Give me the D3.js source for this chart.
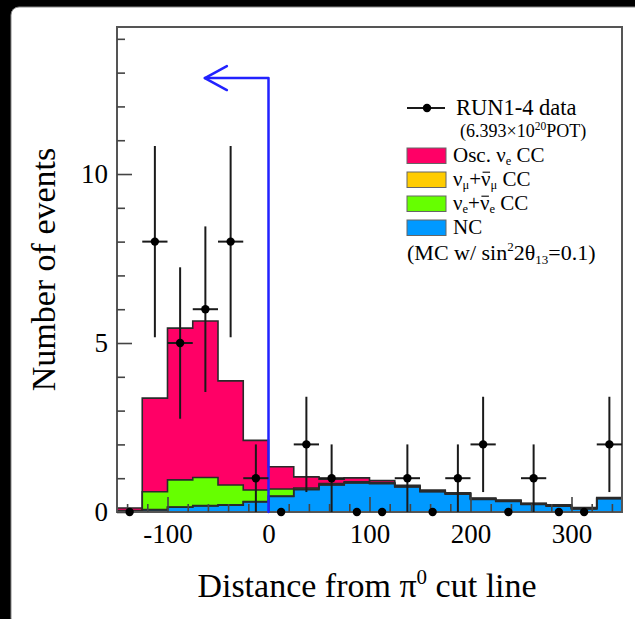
<!DOCTYPE html>
<html>
<head>
<meta charset="utf-8">
<script src="https://cdn.jsdelivr.net/npm/d3@7/dist/d3.min.js"></script>
<style>
  html, body { margin: 0; padding: 0; background: #000; }
  svg { display: block; }
  text { font-family: "Liberation Serif", "DejaVu Serif", serif; fill: #000; }
</style>
</head>
<body>
<svg id="chart" width="635" height="619"></svg>
<script>
// ---------------- data ----------------
const binEdges = [-150, -125, -100, -75, -50, -25, 0, 25, 50, 75, 100, 125, 150, 175, 200, 225, 250, 275, 300, 325, 350];
const binCenters = [-137.5, -112.5, -87.5, -62.5, -37.5, -12.5, 12.5, 37.5, 62.5, 87.5, 112.5, 137.5, 162.5, 187.5, 212.5, 237.5, 262.5, 287.5, 312.5, 337.5];
// MC components (stacked, bottom to top)
const ncValues      = [0.02, 0.06, 0.14, 0.18, 0.20, 0.30, 0.46, 0.66, 0.80, 0.86, 0.84, 0.74, 0.60, 0.53, 0.37, 0.31, 0.22, 0.17, 0.09, 0.39];
const numuCCValues  = [0.00, 0.01, 0.01, 0.01, 0.01, 0.01, 0.01, 0.02, 0.01, 0.01, 0.01, 0.01, 0.01, 0.01, 0.01, 0.01, 0.01, 0.01, 0.01, 0.01];
const nueBeamValues = [0.02, 0.53, 0.80, 0.83, 0.59, 0.34, 0.21, 0.03, 0.03, 0.02, 0.02, 0.02, 0.02, 0.02, 0.02, 0.02, 0.02, 0.02, 0.02, 0.02];
const oscNueValues  = [0.08, 2.77, 4.49, 4.63, 3.08, 1.47, 0.66, 0.33, 0.13, 0.12, 0.06, 0.02, 0.02, 0.01, 0.01, 0.01, 0.01, 0.01, 0.01, 0.01];
// data
const dataCounts = [0, 8, 5, 6, 8, 1, 0, 2, 1, 0, 0, 1, 0, 1, 2, 0, 1, 0, 0, 2];
const dataErrors = [0, 2.83, 2.24, 2.45, 2.83, 1, 0, 1.41, 1, 0, 0, 1, 0, 1, 1.41, 0, 1, 0, 0, 1.41];
const binHalfWidth = 12.5;
// axes
const xDomain = [-150, 350];
const yDomain = [0, 14.35];
const xTickLabels = [-100, 0, 100, 200, 300];
const xMinorTicks = [-140, -120, -80, -60, -40, -20, 20, 40, 60, 80, 120, 140, 160, 180, 220, 240, 260, 280, 320, 340];
const yTickLabels = [0, 5, 10];
const yMinorTicks = [1, 2, 3, 4, 6, 7, 8, 9, 11, 12, 13, 14];
// cut line
const cutX = 0, cutTop = 12.84, arrowTipX = -63;

const seriesKeys = ["nc", "numu", "nueBeam", "oscNue"];
const seriesColors = { nc: "#0099ff", numu: "#ffcc00", nueBeam: "#66ff00", oscNue: "#ff0066" };

// ---------------- layout ----------------
const svg = d3.select("#chart");
const W = 635, H = 619;
const plot = { left: 117, right: 622, top: 27, bottom: 512 };

svg.append("rect").attr("x", 0).attr("y", 0).attr("width", W).attr("height", H).attr("fill", "#000");
svg.append("rect").attr("x", 11).attr("y", 7).attr("width", W).attr("height", H)
  .attr("rx", 8).attr("fill", "#fff").attr("stroke", "#888").attr("stroke-width", 1);

const x = d3.scaleLinear().domain(xDomain).range([plot.left, plot.right]);
const y = d3.scaleLinear().domain(yDomain).range([plot.bottom, plot.top]);

svg.append("clipPath").attr("id", "clip").append("rect")
  .attr("x", plot.left).attr("y", plot.top).attr("width", plot.right - plot.left).attr("height", plot.bottom - plot.top);

// ---------------- stacked histogram ----------------
const rows = binCenters.map((c, i) => ({
  x0: binEdges[i], nc: ncValues[i], numu: numuCCValues[i], nueBeam: nueBeamValues[i], oscNue: oscNueValues[i]
}));
const last = rows[rows.length - 1];
const rowsExt = rows.concat([Object.assign({}, last, { x0: binEdges[binEdges.length - 1] })]);
const stacked = d3.stack().keys(seriesKeys)(rowsExt);

const g = svg.append("g").attr("clip-path", "url(#clip)");
const area = d3.area().curve(d3.curveStepAfter)
  .x(d => x(d.data.x0)).y0(d => y(d[0])).y1(d => y(d[1]));
const topLine = d3.line().curve(d3.curveStepAfter)
  .x(d => x(d.data.x0)).y(d => y(d[1]));

stacked.forEach(layer => {
  g.append("path").attr("d", area(layer)).attr("fill", seriesColors[layer.key]).attr("stroke", "none");
});
stacked.forEach(layer => {
  g.append("path").attr("d", topLine(layer)).attr("fill", "none")
    .attr("stroke", "#2a2a2a").attr("stroke-width", 1.6);
});

// ---------------- axes ----------------
const axisColor = "#444";
const fmt = d => String(d);
svg.append("rect").attr("x", plot.left).attr("y", plot.top)
  .attr("width", plot.right - plot.left).attr("height", plot.bottom - plot.top)
  .attr("fill", "none").attr("stroke", "#555").attr("stroke-width", 2);

const yAxisMajor = d3.axisRight(y).tickValues(yTickLabels).tickSize(15).tickFormat("");
const yAxisMinor = d3.axisRight(y).tickValues(yMinorTicks).tickSize(8).tickFormat("");
[yAxisMajor, yAxisMinor].forEach(ax => {
  const a = svg.append("g").attr("transform", `translate(${plot.left},0)`).call(ax);
  a.select(".domain").remove();
  a.selectAll("line").attr("stroke", axisColor).attr("stroke-width", 1.6);
});
const yLab = svg.append("g").attr("transform", `translate(${plot.left},0)`)
  .call(d3.axisLeft(y).tickValues(yTickLabels).tickSize(0).tickPadding(9).tickFormat(fmt));
yLab.select(".domain").remove();
yLab.selectAll("text").attr("font-family", "Liberation Serif").attr("font-size", 27).attr("fill", "#000");

const xAxisMajor = d3.axisTop(x).tickValues(xTickLabels).tickSize(15).tickFormat("");
const xAxisMinor = d3.axisTop(x).tickValues(xMinorTicks).tickSize(8).tickFormat("");
[xAxisMajor, xAxisMinor].forEach(ax => {
  const a = svg.append("g").attr("transform", `translate(0,${plot.bottom})`).call(ax);
  a.select(".domain").remove();
  a.selectAll("line").attr("stroke", axisColor).attr("stroke-width", 1.6);
});
const xLab = svg.append("g").attr("transform", `translate(0,${plot.bottom})`)
  .call(d3.axisBottom(x).tickValues(xTickLabels).tickSize(0).tickPadding(12).tickFormat(fmt));
xLab.select(".domain").remove();
xLab.selectAll("text").attr("font-family", "Liberation Serif").attr("font-size", 27).attr("fill", "#000");

const xt = svg.append("text").attr("x", 367).attr("y", 597).attr("text-anchor", "middle")
  .attr("font-size", 34);
xt.append("tspan").text("Distance from π");
xt.append("tspan").attr("font-size", 21).attr("dy", -13).text("0");
xt.append("tspan").attr("dy", 13).text(" cut line");

svg.append("text").attr("transform", `translate(55,${(plot.top + plot.bottom) / 2}) rotate(-90)`)
  .attr("text-anchor", "middle").attr("font-size", 34).text("Number of events");

// ---------------- cut line + arrow ----------------
const blue = "#2222ff";
const cut = svg.append("g").attr("stroke", blue).attr("stroke-width", 2.5).attr("fill", "none")
  .attr("stroke-linecap", "round").attr("stroke-linejoin", "round");
cut.append("path").attr("d", d3.line()([[x(cutX), y(0)], [x(cutX), y(cutTop)], [x(arrowTipX), y(cutTop)]]));
cut.append("path").attr("d", d3.line()([[x(arrowTipX) + 22, y(cutTop) - 12], [x(arrowTipX), y(cutTop)], [x(arrowTipX) + 22, y(cutTop) + 12]]));

// ---------------- data points ----------------
const pts = binCenters.map((c, i) => ({ c, n: dataCounts[i], e: dataErrors[i] }));
const dg = svg.append("g");
pts.filter(p => p.n > 0).forEach(p => {
  dg.append("line").attr("x1", x(p.c)).attr("x2", x(p.c)).attr("y1", y(p.n - p.e)).attr("y2", y(p.n + p.e))
    .attr("stroke", "#1a1a1a").attr("stroke-width", 2);
  dg.append("line").attr("x1", x(p.c - binHalfWidth)).attr("x2", x(p.c + binHalfWidth)).attr("y1", y(p.n)).attr("y2", y(p.n))
    .attr("stroke", "#1a1a1a").attr("stroke-width", 2);
});
dg.selectAll("circle").data(pts).enter().append("circle")
  .attr("cx", d => x(d.c)).attr("cy", d => y(d.n)).attr("r", 4.2).attr("fill", "#000");

// ---------------- legend ----------------
const lg = svg.append("g");
const lx = 407;
lg.append("line").attr("x1", lx).attr("x2", lx + 38).attr("y1", 108).attr("y2", 108).attr("stroke", "#1a1a1a").attr("stroke-width", 2);
lg.append("circle").attr("cx", lx + 20).attr("cy", 108).attr("r", 4.2).attr("fill", "#000");
lg.append("text").attr("x", 456).attr("y", 115).attr("font-size", 22.5).text("RUN1-4 data");
const pot = lg.append("text").attr("x", 460).attr("y", 137).attr("font-size", 18);
pot.append("tspan").text("(6.393×10");
pot.append("tspan").attr("font-size", 11.5).attr("dy", -7).text("20");
pot.append("tspan").attr("dy", 7).text("POT)");

const legendItems = [
  { key: "oscNue", y: 148 },
  { key: "numu", y: 172 },
  { key: "nueBeam", y: 196 },
  { key: "nc", y: 220 }
];
legendItems.forEach(it => {
  lg.append("rect").attr("x", lx).attr("y", it.y).attr("width", 39).attr("height", 15.5)
    .attr("fill", seriesColors[it.key]).attr("stroke", "#666").attr("stroke-width", 1);
});
function legendText(yb) { return lg.append("text").attr("x", 453).attr("y", yb).attr("font-size", 21); }
function sub(t, s) { t.append("tspan").attr("font-size", 12.5).attr("dy", 2.5).text(s); }
function back(t, s) { return t.append("tspan").attr("dy", -2.5).text(s); }
function barOver(t, charIndex, baseline) {
  const ext = t.node().getExtentOfChar(charIndex);
  lg.append("line").attr("x1", ext.x + 1.5).attr("x2", ext.x + ext.width - 0.5)
    .attr("y1", baseline - 13.8).attr("y2", baseline - 13.8)
    .attr("stroke", "#000").attr("stroke-width", 1.1);
}
let t = legendText(162);
t.append("tspan").text("Osc. ν"); sub(t, "e"); back(t, " CC");
t = legendText(186);
t.append("tspan").text("ν"); sub(t, "μ"); back(t, "+");
t.append("tspan").text("ν"); sub(t, "μ"); back(t, " CC");
barOver(t, 3, 186);
t = legendText(210);
t.append("tspan").text("ν"); sub(t, "e"); back(t, "+");
t.append("tspan").text("ν"); sub(t, "e"); back(t, " CC");
barOver(t, 3, 210);
t = legendText(234);
t.append("tspan").text("NC");
t = lg.append("text").attr("x", 407).attr("y", 260).attr("font-size", 22);
t.append("tspan").text("(MC w/ sin");
t.append("tspan").attr("font-size", 13).attr("dy", -9).text("2");
t.append("tspan").attr("dy", 9).text("2θ");
t.append("tspan").attr("font-size", 13).attr("dy", 4).text("13");
t.append("tspan").attr("dy", -4).text("=0.1)");
</script>
</body>
</html>
